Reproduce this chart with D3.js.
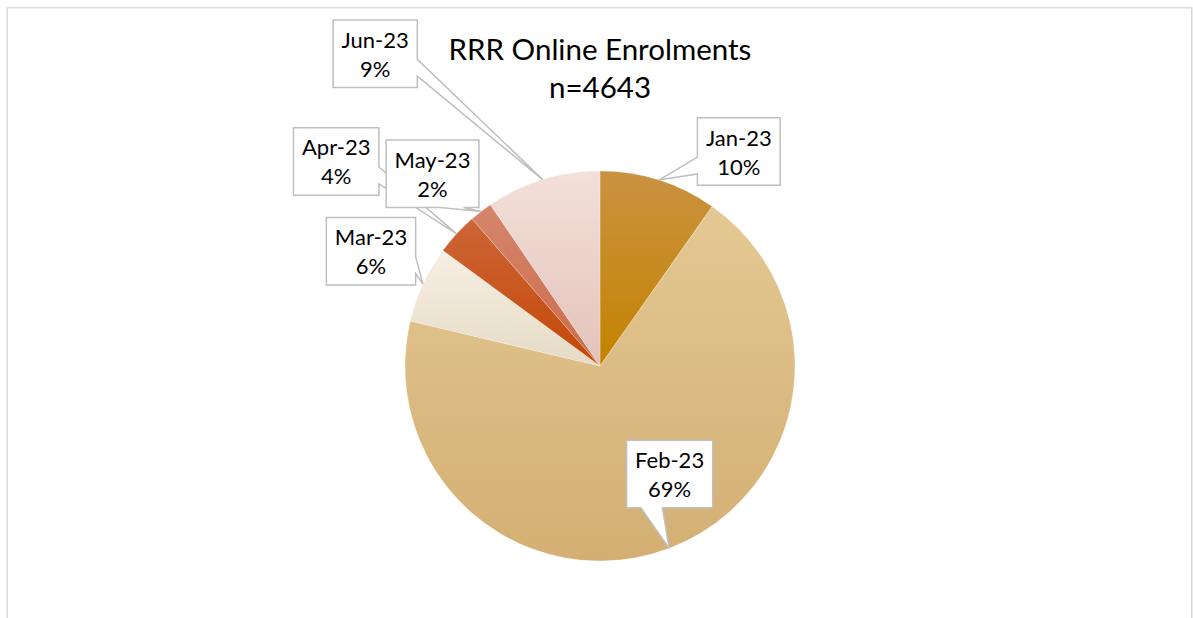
<!DOCTYPE html>
<html>
<head>
<meta charset="utf-8">
<script src="https://cdn.jsdelivr.net/npm/d3@7"></script>
<style>
  html, body { margin: 0; padding: 0; background: #fff; }
  svg { display: block; }
  text { font-family: Lato, "Open Sans", sans-serif; }
</style>
</head>
<body>
<div id="chart"></div>
<script>
// ---- Data ----
const categories = ["Jan-23", "Feb-23", "Mar-23", "Apr-23", "May-23", "Jun-23"];
const enrolments = [453, 3201, 297, 163, 88, 441];
const titleLines = ["RRR Online Enrolments", "n=4643"];

// ---- Styles ----
const colorTop    = ["#ca9241", "#e4c893", "#f7efe3", "#cc6538", "#d5866d", "#f3e0d9"];
const colorBottom = ["#c48300", "#d3af73", "#e5dbc6", "#c54806", "#cc6a47", "#e3c3bb"];

// ---- Layout ----
const W = 1193, H = 618;
const cx = 600, cy = 366, R = 195;
// callout box centres (layout only)
const boxCenters = [[738.8, 151.5], [669.6, 474], [371, 251.2], [336.2, 161.4], [432.5, 173.7], [375.2, 53.7]];
const boxH = 67.5, boxPad = 8.5;

const svg = d3.select("#chart").append("svg").attr("width", W).attr("height", H);

// chart border
svg.append("rect").attr("x", 7.25).attr("y", 7.75).attr("width", 1184.5).attr("height", 700)
  .attr("fill", "none").attr("stroke", "#d9d9d9").attr("stroke-width", 1.5);

const defs = svg.append("defs");
categories.forEach((c, i) => {
  const g = defs.append("linearGradient").attr("id", "grad" + i)
    .attr("x1", 0).attr("y1", 0).attr("x2", 0).attr("y2", 1);
  g.append("stop").attr("offset", "0%").attr("stop-color", colorTop[i]);
  g.append("stop").attr("offset", "100%").attr("stop-color", colorBottom[i]);
});

const total = d3.sum(enrolments);
const data = categories.map((c, i) => ({ cat: c, value: enrolments[i], i }));
const pie = d3.pie().value(d => d.value).sort(null);
const arcs = pie(data);
const arc = d3.arc().innerRadius(0).outerRadius(R);
const edge = d3.arc().innerRadius(R).outerRadius(R);
const pct = d3.format(".0%");

const g = svg.append("g").attr("transform", `translate(${cx},${cy})`);
g.selectAll("path.slice").data(arcs).join("path")
  .attr("class", "slice")
  .attr("d", arc)
  .attr("fill", d => `url(#grad${d.data.i})`)
  .attr("stroke", "#ffffff").attr("stroke-width", 0.4).attr("stroke-opacity", 0.6);

// title
const title = svg.append("text").attr("text-anchor", "middle").attr("fill", "#000").attr("font-size", 29.5);
title.append("tspan").attr("x", 600).attr("y", 59.5).text(titleLines[0]);
title.append("tspan").attr("x", 600).attr("y", 97.5).text(titleLines[1]);

// callouts (Office wedgeRectCallout geometry)
function calloutPath(x0, y0, w, h, tx, ty) {
  const hc = x0 + w / 2, vc = y0 + h / 2;
  const dxPos = tx - hc, dyPos = ty - vc;
  const dx = dxPos * h, dy = dyPos * w;
  const x1 = x0 + w * (dxPos > 0 ? 7 : 2) / 12, x2 = x0 + w * (dxPos > 0 ? 10 : 5) / 12;
  const y1 = y0 + h * (dyPos > 0 ? 7 : 2) / 12, y2 = y0 + h * (dyPos > 0 ? 10 : 5) / 12;
  const xr = x0 + w, yb = y0 + h;
  const P = d3.path();
  P.moveTo(x0, y0);
  if (Math.abs(dx) <= Math.abs(dy) && dyPos < 0) { P.lineTo(x1, y0); P.lineTo(tx, ty); P.lineTo(x2, y0); }
  P.lineTo(xr, y0);
  if (Math.abs(dx) > Math.abs(dy) && dxPos > 0) { P.lineTo(xr, y1); P.lineTo(tx, ty); P.lineTo(xr, y2); }
  P.lineTo(xr, yb);
  if (Math.abs(dx) <= Math.abs(dy) && dyPos > 0) { P.lineTo(x2, yb); P.lineTo(tx, ty); P.lineTo(x1, yb); }
  P.lineTo(x0, yb);
  if (Math.abs(dx) > Math.abs(dy) && dxPos < 0) { P.lineTo(x0, y2); P.lineTo(tx, ty); P.lineTo(x0, y1); }
  P.closePath();
  return P.toString();
}

const labels = svg.append("g");
arcs.forEach(d => {
  const i = d.data.i;
  const [bx, by] = boxCenters[i];
  const [ex, ey] = edge.centroid(d);
  const tx = cx + ex, ty = cy + ey;
  const grp = labels.append("g");
  const p = grp.append("path");
  const t = grp.append("text").attr("text-anchor", "middle").attr("font-size", 22).attr("fill", "#000");
  t.append("tspan").attr("x", bx).attr("y", by - 6).text(d.data.cat);
  t.append("tspan").attr("x", bx).attr("y", by + 23).text(pct(d.data.value / total));
  const tw = t.node().getBBox().width;
  const w = tw + 2 * boxPad;
  p.attr("d", calloutPath(bx - w / 2, by - boxH / 2, w, boxH, tx, ty))
    .attr("fill", "#fff").attr("stroke", "#bfbfbf").attr("stroke-width", 1.5)
    .attr("stroke-linejoin", "miter");
});
</script>
</body>
</html>
